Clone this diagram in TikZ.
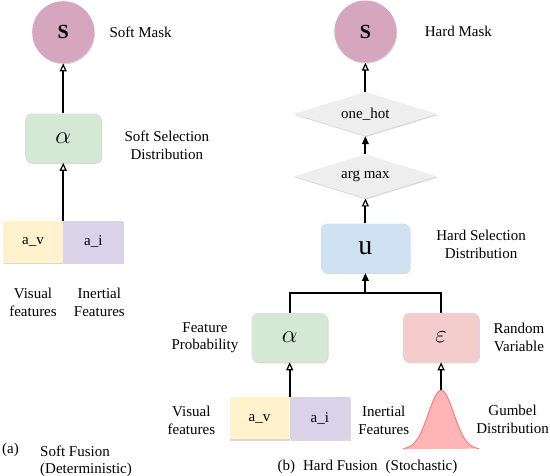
\documentclass[tikz,border=0pt]{standalone}
\usepackage{fontspec}
\setmainfont{Liberation Serif}
\usepackage{tikz}
\usetikzlibrary{positioning, calc}
\usetikzlibrary{shapes.geometric, arrows.meta, shadows}

\definecolor{maskpink}{HTML}{D5A6BD}
\definecolor{probgreen}{HTML}{D5E8D4}
\definecolor{randpink}{HTML}{F4CCCC}
\definecolor{hardblue}{HTML}{CFE2F3}
\definecolor{featyellow}{HTML}{FFF2CC}
\definecolor{featpurple}{HTML}{D9D2E9}
\definecolor{opgray}{HTML}{EEEEEE}
\definecolor{gumbelfill}{HTML}{FFB5B5}
\definecolor{gumbelline}{HTML}{FF7C7C}

\tikzset{
    softshadow/.style={drop shadow={shadow xshift=0.8pt, shadow yshift=-1.2pt, opacity=0.25, fill=black!60}},
    box/.style={rectangle, rounded corners=6pt, minimum width=76pt, minimum height=49pt, inner sep=0pt, softshadow, font=\fontsize{28}{28}\selectfont},
    feat/.style={rectangle, minimum width=60pt, minimum height=42pt, inner sep=0pt, softshadow},
    mask/.style={circle, minimum size=62pt, inner sep=0pt, fill=maskpink, softshadow, font=\fontsize{20}{20}\selectfont\bfseries},
    op/.style={diamond, aspect=3.25, minimum width=143pt, minimum height=44pt, inner sep=0pt, fill=opgray, softshadow},
    lbl/.style={inner sep=0pt, align=center},
    arr/.style={-{Triangle[open, line width=1.2pt, length=8pt, width=7pt]}, line width=2pt},
    farr/.style={-{Triangle[length=8pt, width=6.5pt]}, line width=2pt},
}

\begin{document}
\begin{tikzpicture}[x=1pt, y=1pt, font=\fontsize{15}{17.5}\selectfont]
    \useasboundingbox (0,0) rectangle (550,476);

    % Soft fusion
    \node[feat, fill=featyellow]		(av1)		at (33,234) {a\_v};
    \node[feat, fill=featpurple, right = 0pt of av1]		(ai1)		{a\_i};
    \node[box, fill=probgreen, above = 58pt of av1.north east]		(alpha1)		{$\alpha$};
    \node[mask, above = 50pt of alpha1]		(s1)		{S};

    \node[lbl, right = 15pt of s1]		(softmask)		{Soft Mask};
    \node[lbl, right = 23pt of alpha1, yshift=-7pt]		(softsel)		{Soft Selection\\Distribution};
    \node[lbl, below = 25pt of av1]		(vis1)		{Visual\\features};
    \node[lbl, below = 25pt of ai1, xshift=6pt]		(inert1)		{Inertial\\Features};

    % Hard fusion
    \node[feat, fill=featyellow]		(av2)		at (259.5,57.5) {a\_v};
    \node[feat, fill=featpurple, right = 0pt of av2]		(ai2)		{a\_i};
    \node[box, fill=probgreen, above = 35pt of av2.north east]		(alpha2)		{$\alpha$};
    \node[box, fill=randpink, right = 75pt of alpha2]		(eps)		{$\varepsilon$};
    \coordinate (join) at ($(alpha2.north)!0.5!(eps.north) + (0,20)$);
    \node[box, fill=hardblue, minimum width=89pt, above = 20pt of join]		(u)		{u};
    \node[op, above = 25pt of u]		(argmax)		{arg max};
    \node[op, above = 18pt of argmax]		(onehot)		{one\_hot};
    \node[mask, above = 29pt of onehot]		(s2)		{S};
    \coordinate[below = 28pt of eps] (gpeak);

    \node[lbl, right = 28pt of s2]		(hardmask)		{Hard Mask};
    \node[lbl, right = 26pt of u, yshift=4pt]		(hardsel)		{Hard Selection\\Distribution};
    \node[lbl, left = 13pt of alpha2]		(featprob)		{Feature\\Probability};
    \node[lbl, right = 14pt of eps]		(randvar)		{Random\\Variable};
    \node[lbl, left = 14pt of av2, yshift=-2pt]		(vis2)		{Visual\\features};
    \node[lbl, right = 8pt of ai2, yshift=-2pt]		(inert2)		{Inertial\\Features};
    \node[lbl]		(gumbellbl)		at ($(gpeak)+(71.5,-29)$) {Gumbel\\Distribution};

    % Gumbel curve
    \begin{scope}[shift={(gpeak)}]
        \fill[gumbelfill] (-38,-59) -- plot[domain=-38:38, samples=80, smooth] (\x, {59*exp(-0.5*(\x/12.7)*(\x/12.7)) - 59}) -- cycle;
        \draw[gumbelline, line width=1pt] plot[domain=-38:38, samples=80, smooth] (\x, {59*exp(-0.5*(\x/12.7)*(\x/12.7)) - 59});
    \end{scope}

    % Captions
    \node[lbl, anchor=base west]		(capa)		at (2,22) {(a)};
    \node[lbl, align=left, anchor=north west]		(capsoft)		at (40,30.5) {Soft Fusion\\(Deterministic)};
    \node[lbl, anchor=base]		(capb)		at (367.5,5) {(b)\hspace{8pt}Hard Fusion\hspace{8pt}(Stochastic)};

    % Connect nodes
    \draw[arr] (av1.north east) -- (alpha1);
    \draw[arr] (alpha1) -- (s1);
    \draw[arr] (av2.north east) -- (alpha2);
    \draw[arr] (gpeak) -- (eps);
    \draw[line width=2pt] (alpha2.north) |- (join) -| (eps.north);
    \draw[farr] (join) -- (u);
    \draw[arr] (u) -- (argmax);
    \draw[farr] (argmax) -- (onehot);
    \draw[arr] (onehot) -- (s2);
\end{tikzpicture}
\end{document}
